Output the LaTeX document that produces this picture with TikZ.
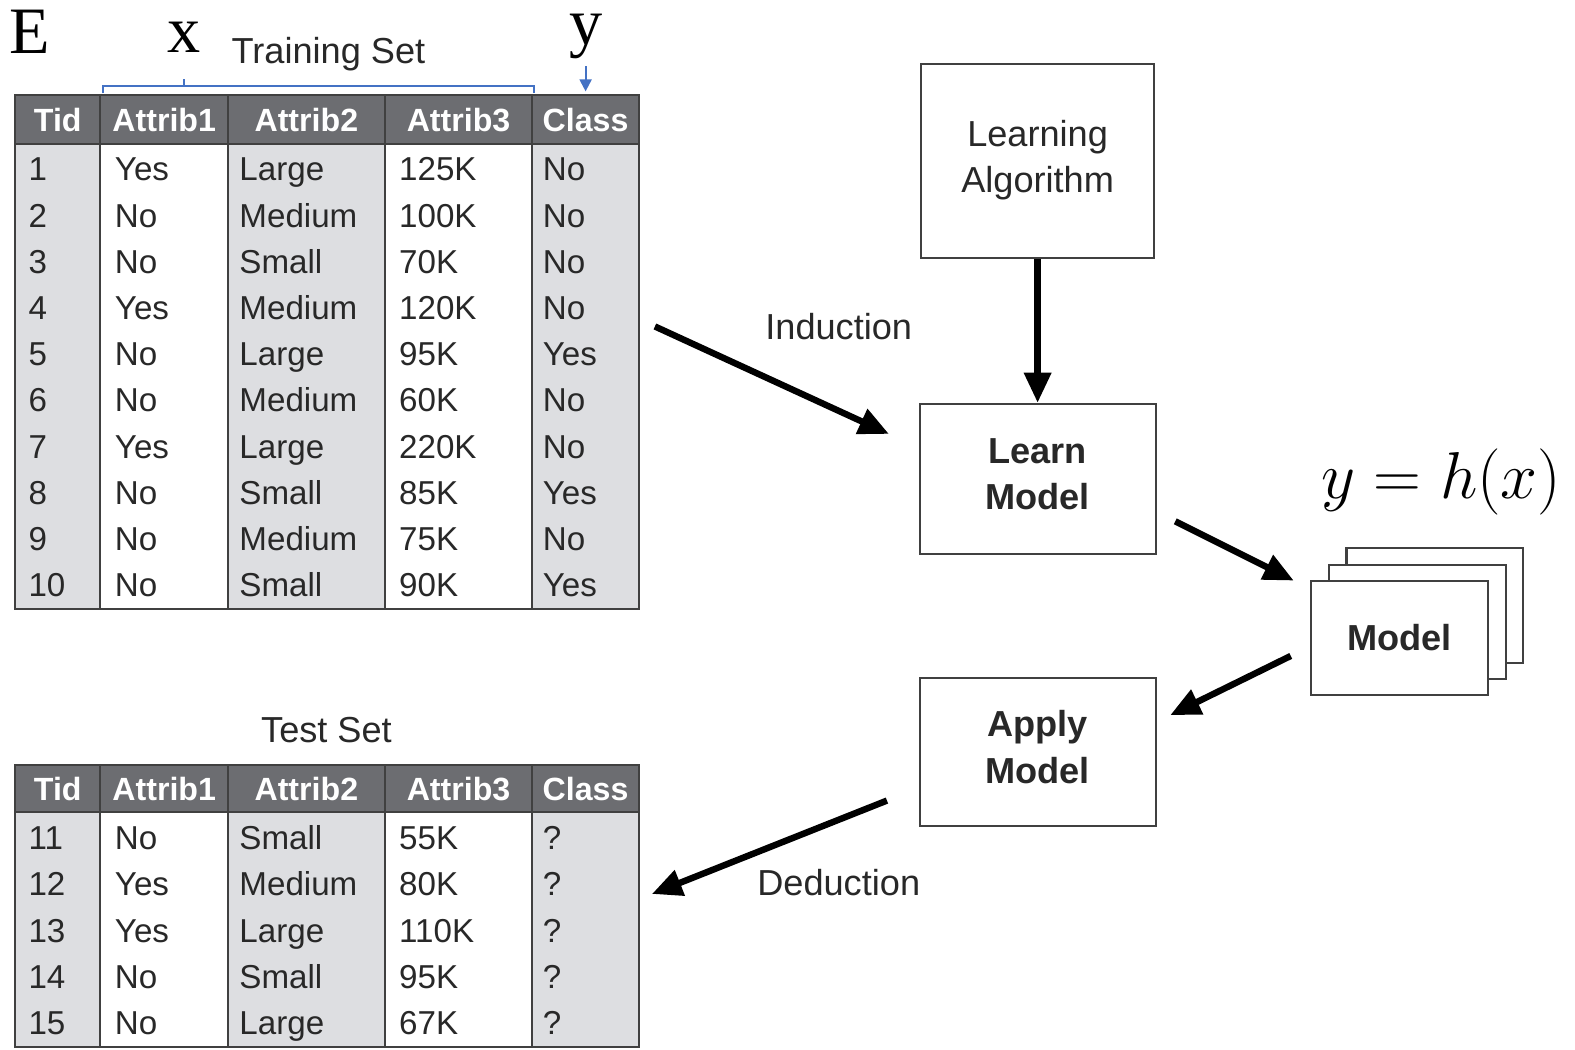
\documentclass[tikz,border=0pt]{standalone}
\usepackage{fix-cm}
\usepackage{fontspec}
\setmainfont{Liberation Sans}
\newfontfamily\timesfont{Liberation Serif}
\usepackage{tikz}
\usetikzlibrary{arrows.meta,positioning}
\definecolor{hdrgray}{RGB}{108,109,113}
\definecolor{colgray}{RGB}{221,222,225}
\definecolor{brblue}{RGB}{68,114,196}
\definecolor{ink}{RGB}{40,40,40}

\begin{document}
\begin{tikzpicture}[x=0.5pt,y=-0.5pt]
    \tikzset{
      hdr/.style={text=white,inner sep=0pt,anchor=base,font=\fontsize{16}{19}\selectfont\bfseries},
      cell/.style={anchor=base west,inner sep=0pt,text=ink,font=\fontsize{16.5}{19}\selectfont},
      grid/.style={draw=black!75,line width=1pt},
      box/.style={draw=black!75,line width=1pt,fill=white,align=center,text=ink,font=\fontsize{18}{23}\selectfont},
      bigarrow/.style={line width=3.2pt,-{Triangle[length=15pt,width=13pt]}},
      lbl/.style={text=ink,font=\fontsize{18}{22}\selectfont},
      serif/.style={inner sep=0pt,anchor=base,font=\timesfont\fontsize{33}{36}\selectfont}
    }
    \useasboundingbox (0,0) rectangle (1568,1045);
    % training table
    \fill [hdrgray] (15,95) rectangle (636,143);
    \fill [colgray] (15,143) rectangle (100,606);
    \fill [colgray] (227,143) rectangle (383,606);
    \fill [colgray] (530,143) rectangle (636,606);
    \draw [grid] (15,95) rectangle (636,606);
    \draw [grid] (15,143) -- (636,143);
    \foreach \cx in {100,227,383,530}
        \draw [grid] (\cx,95) -- (\cx,606);
    \foreach \h/\cx in {Tid/57.5,Attrib1/163.5,Attrib2/305,Attrib3/456.5,Class/583}
        \node [hdr] (trh\h) at (\cx,131) {\h};
    \foreach \t/\a/\b/\c/\k [count=\i] in {1/Yes/Large/125K/No, 2/No/Medium/100K/No,
        3/No/Small/70K/No, 4/Yes/Medium/120K/No, 5/No/Large/95K/Yes,
        6/No/Medium/60K/No, 7/Yes/Large/220K/No, 8/No/Small/85K/Yes,
        9/No/Medium/75K/No, 10/No/Small/90K/Yes}
    {
        \pgfmathsetmacro\yy{180+46*(\i-1)}
        \node [cell] (tr\i-t) at (28,\yy) {\t};
        \node [cell] (tr\i-a) at (114,\yy) {\a};
        \node [cell] (tr\i-b) at (238,\yy) {\b};
        \node [cell] (tr\i-c) at (397,\yy) {\c};
        \node [cell] (tr\i-k) at (540,\yy) {\k};
    }
    \node [lbl] (trainset) at (327,54) {Training Set};
    \node [serif] (elab) at (30,53) {E};
    \node [serif] (xlab) at (183,52) {x};
    \node [serif] (ylab) at (583,44) {y};
    \draw [brblue,line width=1pt] (103,93) -- (103,86) -- (532,86) -- (532,93) (183,86) -- (183,79);
    \coordinate (ytip) at (583,91);
    \draw [brblue,line width=1pt,-{Triangle[length=6pt,width=6pt]}] (583,66) -- (ytip);
    % test table
    \fill [hdrgray] (15,762) rectangle (636,808);
    \fill [colgray] (15,808) rectangle (100,1042);
    \fill [colgray] (227,808) rectangle (383,1042);
    \fill [colgray] (530,808) rectangle (636,1042);
    \draw [grid] (15,762) rectangle (636,1042);
    \draw [grid] (15,808) -- (636,808);
    \foreach \cx in {100,227,383,530}
        \draw [grid] (\cx,762) -- (\cx,1042);
    \foreach \h/\cx in {Tid/57.5,Attrib1/163.5,Attrib2/305,Attrib3/456.5,Class/583}
        \node [hdr] (teh\h) at (\cx,797) {\h};
    \foreach \t/\a/\b/\c [count=\i] in {11/No/Small/55K, 12/Yes/Medium/80K,
        13/Yes/Large/110K, 14/No/Small/95K, 15/No/Large/67K}
    {
        \pgfmathsetmacro\yy{846+46*(\i-1)}
        \node [cell] (te\i-t) at (28,\yy) {\t};
        \node [cell] (te\i-a) at (114,\yy) {\a};
        \node [cell] (te\i-b) at (238,\yy) {\b};
        \node [cell] (te\i-c) at (397,\yy) {\c};
        \node [cell] (te\i-k) at (540,\yy) {?};
    }
    \node [lbl] (testset) at (325,727) {Test Set};
    % boxes
    \node [box,minimum width=116pt,minimum height=96.5pt] (la) at (1033,160.5) {Learning\\Algorithm\\[-18pt]};
    \node [box,minimum width=117.5pt,minimum height=75pt] (lm) at (1033,477) {\bfseries Learn\\\bfseries Model\\[-18pt]};
    \node [box,minimum width=117.5pt,minimum height=73.5pt] (am) at (1033,748.5) {\bfseries Apply\\\bfseries Model\\[-18pt]};
    \node [box,minimum width=88pt,minimum height=57pt] (mod3) at (1428.5,603) {};
    \node [box,minimum width=88pt,minimum height=57pt] (mod2) at (1411,619) {};
    \node [box,minimum width=88pt,minimum height=57pt] (mod) at (1393.5,635) {\bfseries Model};
    \node [font=\fontsize{33}{40}\selectfont] (hyp) at (1435,480) {$y = h(x)$};
    % arrows
    \coordinate (ind-s) at (652,325);
    \coordinate (ind-e) at (885,432);
    \coordinate (lm-s) at (1170,519);
    \coordinate (lm-e) at (1288,578);
    \coordinate (am-s) at (1285,653);
    \coordinate (am-e) at (1165,712);
    \coordinate (ded-s) at (883,797);
    \coordinate (ded-e) at (649,890);
    \draw [bigarrow] (ind-s) -- (ind-e);
    \draw [bigarrow] (la) -- (lm);
    \draw [bigarrow] (lm-s) -- (lm-e);
    \draw [bigarrow] (am-s) -- (am-e);
    \draw [bigarrow] (ded-s) -- (ded-e);
    \node [lbl] (ind) at (835,325) {Induction};
    \node [lbl] (ded) at (835,879) {Deduction};
\end{tikzpicture}
\end{document}
